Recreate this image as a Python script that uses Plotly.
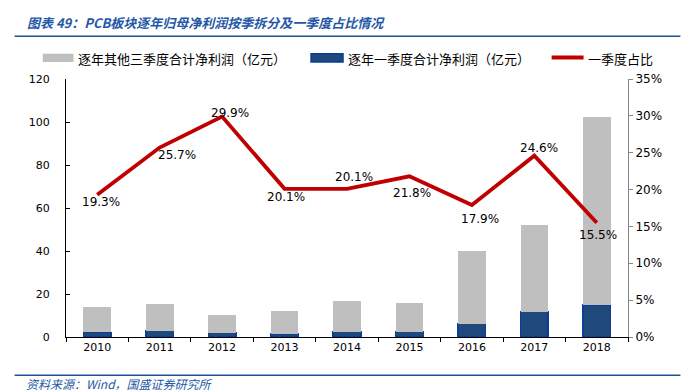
import plotly.graph_objects as go

years = ["2010", "2011", "2012", "2013", "2014", "2015", "2016", "2017", "2018"]
q1_profit = [2.1, 3.0, 2.0, 1.5, 2.5, 2.5, 6.2, 11.8, 15.0]
other_profit = [11.9, 12.3, 8.2, 10.6, 14.2, 13.3, 33.8, 40.3, 87.3]
q1_share = [0.193, 0.257, 0.299, 0.201, 0.201, 0.218, 0.179, 0.246, 0.155]

name_other = "逐年其他三季度合计净利润（亿元）"
name_q1 = "逐年一季度合计净利润（亿元）"
name_share = "一季度占比"
title_text = "图表 49：PCB板块逐年归母净利润按季拆分及一季度占比情况"
source_text = "资料来源：Wind，国盛证券研究所"

GREY = "#BFBFBF"
NAVY = "#1F497D"
RED = "#C00000"
BLUE_T = "#2458A6"
NUM_FONT = "DejaVu Sans"
CJK_FONT = "Noto Sans CJK SC"

fig = go.Figure()
fig.add_trace(go.Bar(x=years, y=q1_profit, name=name_q1, marker=dict(color=NAVY, line=dict(color="#0A3E98", width=1.5)), yaxis="y"))
fig.add_trace(go.Bar(x=years, y=other_profit, name=name_other, marker=dict(color=GREY, line=dict(width=0)), yaxis="y"))
fig.add_trace(go.Scatter(x=years, y=q1_share, name=name_share, mode="lines", line=dict(color=RED, width=3.8), yaxis="y2"))

# data labels for the share line (offsets are styling only)
shifts = [(4, -7), (17, -7), (8, 4), (1, -8), (7, 12), (3, -17), (8, -14), (5, 8), (1, -12)]
annotations = []
for i, (v, (dx, dy)) in enumerate(zip(q1_share, shifts)):
    annotations.append(dict(x=i, y=v, xref="x", yref="y2", text=f"{v*100:.1f}%", showarrow=False,
                            xshift=dx, yshift=dy, font=dict(family=NUM_FONT, size=12, color="#000"),
                            xanchor="center", yanchor="middle"))

L, R, T, B = 57.5, 620.5, 71, 329
W = R - L
H = B - T
def px(x):
    return (x - L) / W
def py(y):
    return (B - y) / H

shapes = []
# legend swatches
shapes.append(dict(type="rect", xref="paper", yref="paper", x0=px(34.3), x1=px(65), y0=py(54), y1=py(45.7), fillcolor=GREY, line=dict(width=0)))
shapes.append(dict(type="rect", xref="paper", yref="paper", x0=px(303), x1=px(335), y0=py(54), y1=py(45.7), fillcolor=NAVY, line=dict(color="#0A3E98", width=1.5)))
shapes.append(dict(type="line", xref="paper", yref="paper", x0=px(544), x1=px(576), y0=py(49.5), y1=py(49.5), line=dict(color=RED, width=4)))
# title & source rules
shapes.append(dict(type="line", xref="paper", yref="paper", x0=px(6), x1=px(673), y0=py(28.3), y1=py(28.3), line=dict(color="#1F4E99", width=1.5)))
shapes.append(dict(type="line", xref="paper", yref="paper", x0=px(6), x1=px(673), y0=py(367.3), y1=py(367.3), line=dict(color="#1F4E99", width=1.5)))

leg_font = dict(family=CJK_FONT, size=13, color="#000")
annotations += [
    dict(xref="paper", yref="paper", x=px(68), y=py(50), text=name_other, showarrow=False, xanchor="left", yanchor="middle", font=leg_font),
    dict(xref="paper", yref="paper", x=px(338), y=py(50), text=name_q1, showarrow=False, xanchor="left", yanchor="middle", font=leg_font),
    dict(xref="paper", yref="paper", x=px(578), y=py(50), text=name_share, showarrow=False, xanchor="left", yanchor="middle", font=leg_font),
    dict(xref="paper", yref="paper", x=px(16), y=py(14), text=f"<i>{title_text}</i>", showarrow=False, xanchor="left", yanchor="middle",
         font=dict(family=CJK_FONT, size=13, color=BLUE_T, weight=600)),
    dict(xref="paper", yref="paper", x=px(15), y=py(375.5), text=f"<i>{source_text}</i>", showarrow=False, xanchor="left", yanchor="middle",
         font=dict(family=CJK_FONT, size=12, color=BLUE_T)),
]

fig.update_layout(
    width=690, height=392,
    margin=dict(l=L, r=690 - R, t=T, b=392 - B),
    paper_bgcolor="white", plot_bgcolor="white",
    barmode="stack", bargap=0.557,
    showlegend=False,
    xaxis=dict(type="category", range=[-0.5, len(years) - 0.5], autorange=False, showline=True, linecolor="#000",
               linewidth=1, ticks="outside", tickson="boundaries",
               ticklen=4, tickcolor="#000", showgrid=False, tickfont=dict(family=NUM_FONT, size=11, color="#000")),
    yaxis=dict(range=[0, 120], dtick=20, showline=True, linecolor="#000", linewidth=1, ticks="inside", ticklen=4,
               tickcolor="#000", showgrid=False, zeroline=False, ticklabelstandoff=13,
               tickfont=dict(family=NUM_FONT, size=11, color="#000")),
    yaxis2=dict(range=[0, 0.35], dtick=0.05, tickformat=".0%", overlaying="y", side="right", showline=True,
                linecolor="#868686", linewidth=1, ticks="outside", ticklen=4, tickcolor="#868686", showgrid=False,
                zeroline=False, ticklabelstandoff=0, tickfont=dict(family=NUM_FONT, size=12, color="#000")),
    annotations=annotations,
    shapes=shapes,
)

fig.write_html("out.html")
